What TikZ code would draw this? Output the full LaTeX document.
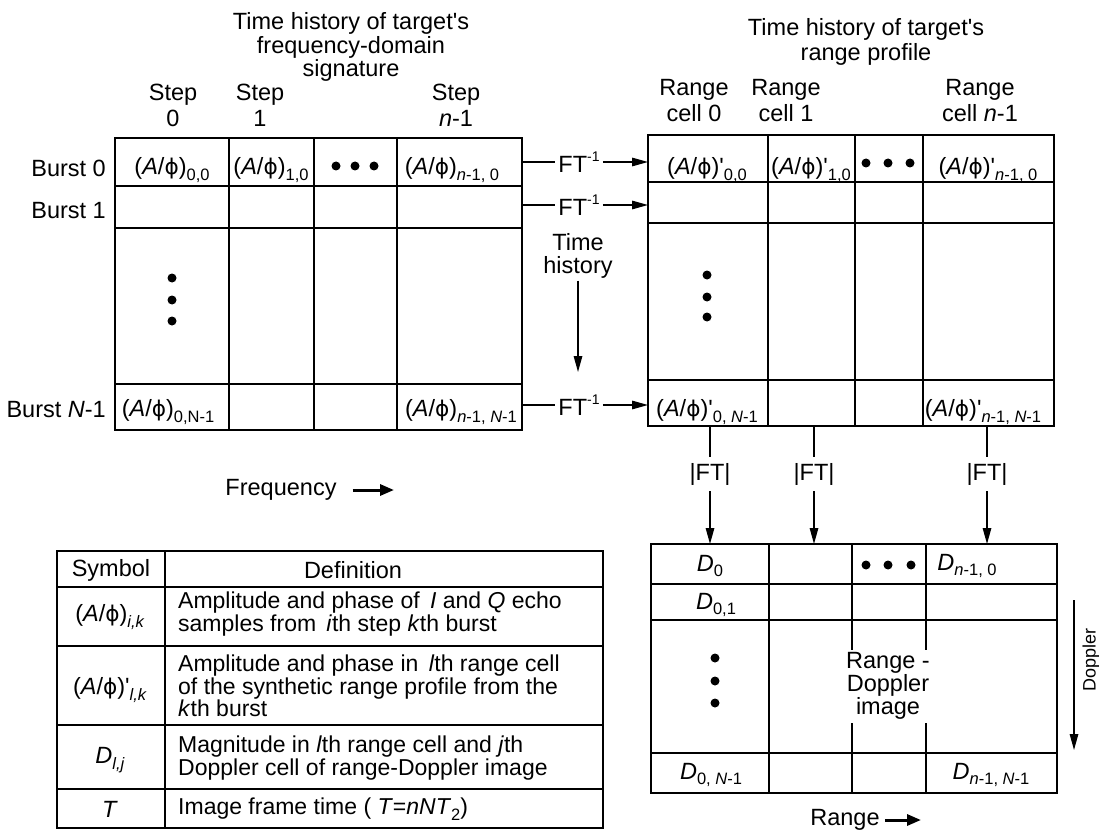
\documentclass[tikz,border=0pt]{standalone}
\usepackage{fontspec}
\setmainfont{Liberation Sans}
\newfontfamily\phifont[Scale=0.92]{DejaVu Sans}
\usetikzlibrary{arrows.meta}
\newcommand{\ph}{{\phifont ϕ}}
\newcommand{\sbs}[1]{\raisebox{-0.45ex}{\fontsize{16.5}{16.5}\selectfont #1}}
\newcommand{\sps}[1]{\raisebox{0.85ex}{\fontsize{14}{14}\selectfont #1}}
\newcommand{\AP}{(\textit{A}/\ph)}
\newcommand{\pr}{\textquotesingle}
\tikzset{
  gridline/.style={line width=2pt},
  txt/.style={font=\fontsize{23.5}{25}\selectfont, inner sep=0pt},
  hdr/.style={inner sep=0pt, align=center, font=\fontsize{23.5}{26}\selectfont},
  ttl/.style={inner sep=0pt, align=center, font=\fontsize{23.5}{23.5}\selectfont},
  legtxt/.style={font=\fontsize{23}{20.5}\selectfont, inner sep=0pt, align=left, anchor=west},
  conn/.style={line width=1.4pt},
  arr/.style={conn, -{Triangle[length=16pt,width=8.5pt]}},
  boldarr/.style={line width=3pt, -{Triangle[length=14pt,width=11pt]}},
  dot/.style={circle, fill, inner sep=0pt, minimum size=9pt},
  ftlbl/.style={font=\fontsize{23.5}{25}\selectfont, inner sep=3pt},
  fabs/.style={font=\fontsize{23.5}{25}\selectfont, inner xsep=2pt, inner ysep=6pt},
}
\begin{document}
\begin{tikzpicture}[x=1pt,y=-1pt]
\useasboundingbox (0,0) rectangle (1099,834);
\fill[white] (0,0) rectangle (1099,834);

% ---------- left grid ----------
\draw[gridline] (115,138) rectangle (522,430);
\foreach \y in {186,228,384} \draw[gridline] (115,\y) -- (522,\y);
\foreach \x in {229,314,397} \draw[gridline] (\x,138) -- (\x,430);

% ---------- right grid ----------
\draw[gridline] (648,135) rectangle (1054,426);
\foreach \y in {182,223,380} \draw[gridline] (648,\y) -- (1054,\y);
\foreach \x in {768,855,923} \draw[gridline] (\x,135) -- (\x,426);

% ---------- bottom grid ----------
\draw[gridline] (651,544) rectangle (1057,793);
\foreach \y in {584,620,753} \draw[gridline] (651,\y) -- (1057,\y);
\draw[gridline] (769,544) -- (769,793);
\foreach \x in {852,926} {\draw[gridline] (\x,544) -- (\x,650); \draw[gridline] (\x,723) -- (\x,793);}

% ---------- legend ----------
\draw[gridline] (57,551) rectangle (603,828);
\foreach \y in {587,646,725,789} \draw[gridline] (57,\y) -- (603,\y);
\draw[gridline] (165,551) -- (165,828);

% ---------- headers ----------
\node[ttl] (ttlL) at (351,47) {Time history of target\pr s\\frequency-domain\\signature};
\node[hdr] (st0) at (173,105) {Step\\0};
\node[hdr] (st1) at (260,105) {Step\\1};
\node[hdr] (stn) at (456,105) {Step\\\textit{n}-1};
\node[ttl, font=\fontsize{23.5}{25}\selectfont] (ttlR) at (866,42) {Time history of target\pr s\\range profile};
\node[hdr] (rc0) at (694,101) {Range\\cell 0};
\node[hdr] (rc1) at (786,101) {Range\\cell 1};
\node[hdr] (rcn) at (980,101) {Range\\cell \textit{n}-1};

% ---------- burst labels ----------
\node[txt, anchor=east] (b0) at (106,168) {Burst 0};
\node[txt, anchor=east] (b1) at (106,211) {Burst 1};
\node[txt, anchor=east] (bN) at (106,410) {Burst \textit{N}-1};

% ---------- left cells ----------
\node[txt] (c00) at (172,170) {\AP\sbs{0,0}};
\node[txt] (c10) at (271,170) {\AP\sbs{1,0}};
\node[dot] (ld1) at (336,166) {};
\node[dot] (ld2) at (355,166) {};
\node[dot] (ld3) at (374,166) {};
\node[txt] (cn0) at (452,170) {\AP\sbs{\textit{n}-1, 0}};
\node[dot] (lv1) at (172,278) {};
\node[dot] (lv2) at (172,300) {};
\node[dot] (lv3) at (172,321) {};
\node[txt] (c0N) at (168,412) {\AP\sbs{0,N-1}};
\node[txt] (cnN) at (461,412) {\AP\sbs{\textit{n}-1, \textit{N}-1}};

% ---------- right cells ----------
\node[txt] (r00) at (707,170) {\AP\pr\sbs{0,0}};
\node[txt] (r10) at (811,170) {\AP\pr\sbs{1,0}};
\node[dot] (rd1) at (866,163) {};
\node[dot] (rd2) at (888,163) {};
\node[dot] (rd3) at (910,163) {};
\node[txt] (rn0) at (988,170) {\AP\pr\sbs{\textit{n}-1, 0}};
\node[dot] (rv1) at (707,275) {};
\node[dot] (rv2) at (707,297) {};
\node[dot] (rv3) at (707,317) {};
\node[txt] (r0N) at (707,412) {\AP\pr\sbs{0, \textit{N}-1}};
\node[txt] (rnN) at (983,412) {\AP\pr\sbs{\textit{n}-1, \textit{N}-1}};

% ---------- bottom cells ----------
\node[txt] (d0) at (710,566) {\textit{D}\sbs{0}};
\node[txt] (d01) at (716,605) {\textit{D}\sbs{0,1}};
\node[dot] (bd1) at (866,565) {};
\node[dot] (bd2) at (888,565) {};
\node[dot] (bd3) at (911,565) {};
\node[txt] (dn0) at (967,566) {\textit{D}\sbs{\textit{n}-1, 0}};
\node[dot] (bv1) at (715,658) {};
\node[dot] (bv2) at (715,681) {};
\node[dot] (bv3) at (715,703) {};
\node[ttl, font=\fontsize{23.5}{21}\selectfont] (rdi) at (888,686) {Range -\\Doppler\\image};
\node[txt] (d0N) at (711,775) {\textit{D}\sbs{0, \textit{N}-1}};
\node[txt] (dnN) at (991,775) {\textit{D}\sbs{\textit{n}-1, \textit{N}-1}};

% ---------- FT^-1 connectors ----------
\coordinate (L0) at (522,162); \coordinate (R0) at (648,162);
\coordinate (L1) at (522,205); \coordinate (R1) at (648,205);
\coordinate (L2) at (522,405); \coordinate (R2) at (648,405);
\node[ftlbl] (ft0) at (579,162) {FT\sps{-1}};
\node[ftlbl] (ft1) at (579,205) {FT\sps{-1}};
\node[ftlbl] (ft2) at (579,405) {FT\sps{-1}};
\draw[conn] (L0) -- (ft0.west); \draw[arr] (ft0.east) -- (R0);
\draw[conn] (L1) -- (ft1.west); \draw[arr] (ft1.east) -- (R1);
\draw[conn] (L2) -- (ft2.west); \draw[arr] (ft2.east) -- (R2);

% ---------- time history ----------
\node[ttl, font=\fontsize{23.5}{23}\selectfont, inner sep=2pt] (th) at (578,256) {Time\\history};
\coordinate (thend) at (578,372);
\draw[arr] (th.south) -- (thend);

% ---------- |FT| connectors ----------
\coordinate (B0) at (710,426); \coordinate (E0) at (710,544);
\coordinate (B1) at (814,426); \coordinate (E1) at (814,544);
\coordinate (B2) at (987,426); \coordinate (E2) at (987,544);
\node[fabs] (fa0) at (710,474) {|FT|};
\node[fabs] (fa1) at (814,474) {|FT|};
\node[fabs] (fa2) at (987,474) {|FT|};
\draw[conn] (B0) -- (fa0.north); \draw[arr] (fa0.south) -- (E0);
\draw[conn] (B1) -- (fa1.north); \draw[arr] (fa1.south) -- (E1);
\draw[conn] (B2) -- (fa2.north); \draw[arr] (fa2.south) -- (E2);

% ---------- axis labels ----------
\node[txt] (freq) at (281,490) {Frequency};
\coordinate (freqend) at (394,490);
\draw[boldarr] ([xshift=16pt]freq.east) -- (freqend);
\node[txt] (rng) at (845,820) {Range};
\coordinate (rngend) at (921,820);
\draw[boldarr] ([xshift=5pt]rng.east) -- (rngend);
\node[inner sep=0pt, font=\fontsize{18}{18}\selectfont, rotate=90] (dop) at (1091,660) {Doppler};
\coordinate (dopA) at (1074,600); \coordinate (dopB) at (1074,750);
\draw[arr] (dopA) -- (dopB);

% ---------- legend texts ----------
\node[txt] (lsym) at (111,570) {Symbol};
\node[txt] (ldef) at (353,570) {Definition};
\node[txt] (ls1) at (110,617) {\AP\sbs{\textit{i,k}}};
\node[legtxt] (ldf1) at (178,614) {Amplitude and phase of \,\textit{I} and \textit{Q} echo\\samples from \,\textit{i}th step \textit{k}th burst};
\node[txt] (ls2) at (110,690) {\AP\pr\sbs{\textit{l,k}}};
\node[legtxt] (ldf2) at (178,686) {Amplitude and phase in \,\textit{l}th range cell\\of the synthetic range profile from the\\\textit{k}th burst};
\node[txt] (ls3) at (110,760) {\textit{D}\sbs{\textit{l,j}}};
\node[legtxt] (ldf3) at (178,758) {Magnitude in \textit{l}th range cell and \textit{j}th\\Doppler cell of range-Doppler image};
\node[txt] (ls4) at (110,809) {\textit{T}};
\node[legtxt] (ldf4) at (178,809) {Image frame time ( \textit{T}=\textit{nNT}\sbs{2})};
\end{tikzpicture}
\end{document}
